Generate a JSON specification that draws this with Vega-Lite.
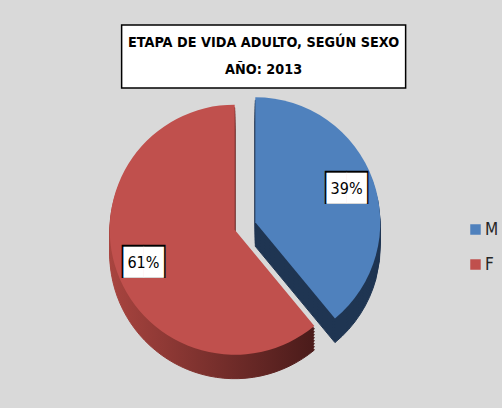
{
 "$schema": "https://vega.github.io/schema/vega-lite/v6.json",
 "background": "#d9d9d9",
 "padding": {"left": 26, "top": 24, "right": 0, "bottom": 30},
 "spacing": 8,
 "center": true,
 "config": {"view": {"stroke": null}, "font": "Liberation Sans Narrow, DejaVu Sans Condensed, sans-serif"},
 "vconcat": [
  {
   "width": 284, "height": 63,
   "view": {"fill": "white", "stroke": "black", "strokeWidth": 1.5},
   "data": {"values": [{"t": "titulo"}]},
   "mark": {"type": "text", "text": ["ETAPA DE  VIDA ADULTO, SEGÚN SEXO", "AÑO: 2013"], "fontSize": 14.3, "fontWeight": "bold", "lineHeight": 26.5, "align": "center", "baseline": "middle", "dy": -13.5, "color": "black"},
   "encoding": {}
  },
  {
   "width": 476, "height": 274,
   "data": {"values": [{"sexo": "M", "pct": 0.39}, {"sexo": "F", "pct": 0.61}]},
   "transform": [{"stack": "pct", "groupby": [], "sort": [{"field": "sexo", "order": "descending"}], "as": ["p0", "p1"]}],
   "layer": [
    {
     "encoding": {
      "theta": {"field": "p0", "type": "quantitative", "scale": {"domain": [0, 1]}},
      "theta2": {"field": "p1"}
     },
     "layer": [
      {"transform": [{"filter": "datum.sexo === 'M'"}], "mark": {"type": "arc", "radius": 125, "xOffset": -8.7, "yOffset": 10.3, "fill": "#1f3552", "stroke": "#1f3552", "strokeWidth": 1}},
      {"transform": [{"filter": "datum.sexo === 'M'"}], "mark": {"type": "arc", "radius": 125, "xOffset": -8.7, "yOffset": 7.3, "fill": "#1f3552", "stroke": "#1f3552", "strokeWidth": 1}},
      {"transform": [{"filter": "datum.sexo === 'M'"}], "mark": {"type": "arc", "radius": 125, "xOffset": -8.7, "yOffset": 4.3, "fill": "#1f3552", "stroke": "#1f3552", "strokeWidth": 1}},
      {"transform": [{"filter": "datum.sexo === 'M'"}], "mark": {"type": "arc", "radius": 125, "xOffset": -8.7, "yOffset": 1.3, "fill": "#1f3552", "stroke": "#1f3552", "strokeWidth": 1}},
      {"transform": [{"filter": "datum.sexo === 'M'"}], "mark": {"type": "arc", "radius": 125, "xOffset": -8.7, "yOffset": -1.7, "fill": "#1f3552", "stroke": "#1f3552", "strokeWidth": 1}},
      {"transform": [{"filter": "datum.sexo === 'M'"}], "mark": {"type": "arc", "radius": 125, "xOffset": -8.7, "yOffset": -4.7, "fill": "#1f3552", "stroke": "#1f3552", "strokeWidth": 1}},
      {"transform": [{"filter": "datum.sexo === 'M'"}], "mark": {"type": "arc", "radius": 125, "xOffset": -8.7, "yOffset": -7.7, "fill": "#1f3552", "stroke": "#1f3552", "strokeWidth": 1}},
      {"transform": [{"filter": "datum.sexo === 'M'"}], "mark": {"type": "arc", "radius": 125, "xOffset": -8.7, "yOffset": -10.7, "fill": "#1f3552", "stroke": "#1f3552", "strokeWidth": 1}},
      {"transform": [{"filter": "datum.sexo === 'F'"}], "mark": {"type": "arc", "radius": 125, "xOffset": -29.3, "yOffset": 17.7, "fill": {"gradient": "linear", "x1": 0, "y1": 0, "x2": 1, "y2": 0, "stops": [{"offset": 0, "color": "#a8443f"}, {"offset": 1, "color": "#4a1b1a"}]}, "stroke": {"gradient": "linear", "x1": 0, "y1": 0, "x2": 1, "y2": 0, "stops": [{"offset": 0, "color": "#a8443f"}, {"offset": 1, "color": "#4a1b1a"}]}, "strokeWidth": 1}},
      {"transform": [{"filter": "datum.sexo === 'F'"}], "mark": {"type": "arc", "radius": 125, "xOffset": -29.3, "yOffset": 14.7, "fill": {"gradient": "linear", "x1": 0, "y1": 0, "x2": 1, "y2": 0, "stops": [{"offset": 0, "color": "#a8443f"}, {"offset": 1, "color": "#4a1b1a"}]}, "stroke": {"gradient": "linear", "x1": 0, "y1": 0, "x2": 1, "y2": 0, "stops": [{"offset": 0, "color": "#a8443f"}, {"offset": 1, "color": "#4a1b1a"}]}, "strokeWidth": 1}},
      {"transform": [{"filter": "datum.sexo === 'F'"}], "mark": {"type": "arc", "radius": 125, "xOffset": -29.3, "yOffset": 11.7, "fill": {"gradient": "linear", "x1": 0, "y1": 0, "x2": 1, "y2": 0, "stops": [{"offset": 0, "color": "#a8443f"}, {"offset": 1, "color": "#4a1b1a"}]}, "stroke": {"gradient": "linear", "x1": 0, "y1": 0, "x2": 1, "y2": 0, "stops": [{"offset": 0, "color": "#a8443f"}, {"offset": 1, "color": "#4a1b1a"}]}, "strokeWidth": 1}},
      {"transform": [{"filter": "datum.sexo === 'F'"}], "mark": {"type": "arc", "radius": 125, "xOffset": -29.3, "yOffset": 8.7, "fill": {"gradient": "linear", "x1": 0, "y1": 0, "x2": 1, "y2": 0, "stops": [{"offset": 0, "color": "#a8443f"}, {"offset": 1, "color": "#4a1b1a"}]}, "stroke": {"gradient": "linear", "x1": 0, "y1": 0, "x2": 1, "y2": 0, "stops": [{"offset": 0, "color": "#a8443f"}, {"offset": 1, "color": "#4a1b1a"}]}, "strokeWidth": 1}},
      {"transform": [{"filter": "datum.sexo === 'F'"}], "mark": {"type": "arc", "radius": 125, "xOffset": -29.3, "yOffset": 5.7, "fill": {"gradient": "linear", "x1": 0, "y1": 0, "x2": 1, "y2": 0, "stops": [{"offset": 0, "color": "#a8443f"}, {"offset": 1, "color": "#4a1b1a"}]}, "stroke": {"gradient": "linear", "x1": 0, "y1": 0, "x2": 1, "y2": 0, "stops": [{"offset": 0, "color": "#a8443f"}, {"offset": 1, "color": "#4a1b1a"}]}, "strokeWidth": 1}},
      {"transform": [{"filter": "datum.sexo === 'F'"}], "mark": {"type": "arc", "radius": 125, "xOffset": -29.3, "yOffset": 2.7, "fill": {"gradient": "linear", "x1": 0, "y1": 0, "x2": 1, "y2": 0, "stops": [{"offset": 0, "color": "#a8443f"}, {"offset": 1, "color": "#4a1b1a"}]}, "stroke": {"gradient": "linear", "x1": 0, "y1": 0, "x2": 1, "y2": 0, "stops": [{"offset": 0, "color": "#a8443f"}, {"offset": 1, "color": "#4a1b1a"}]}, "strokeWidth": 1}},
      {"transform": [{"filter": "datum.sexo === 'F'"}], "mark": {"type": "arc", "radius": 125, "xOffset": -29.3, "yOffset": -0.3, "fill": {"gradient": "linear", "x1": 0, "y1": 0, "x2": 1, "y2": 0, "stops": [{"offset": 0, "color": "#a8443f"}, {"offset": 1, "color": "#4a1b1a"}]}, "stroke": {"gradient": "linear", "x1": 0, "y1": 0, "x2": 1, "y2": 0, "stops": [{"offset": 0, "color": "#a8443f"}, {"offset": 1, "color": "#4a1b1a"}]}, "strokeWidth": 1}},
      {"transform": [{"filter": "datum.sexo === 'F'"}], "mark": {"type": "arc", "radius": 125, "xOffset": -29.3, "yOffset": -3.3, "fill": {"gradient": "linear", "x1": 0, "y1": 0, "x2": 1, "y2": 0, "stops": [{"offset": 0, "color": "#a8443f"}, {"offset": 1, "color": "#4a1b1a"}]}, "stroke": {"gradient": "linear", "x1": 0, "y1": 0, "x2": 1, "y2": 0, "stops": [{"offset": 0, "color": "#a8443f"}, {"offset": 1, "color": "#4a1b1a"}]}, "strokeWidth": 1}},
      {"transform": [{"filter": "datum.sexo === 'M'"}], "mark": {"type": "arc", "radius": 125, "xOffset": -8.7, "yOffset": -13.7},
       "encoding": {"color": {"field": "sexo", "type": "nominal", "scale": {"domain": ["M", "F"], "range": ["#4f81bd", "#c0504d"]},
        "legend": {"orient": "none", "legendX": 441, "legendY": 196, "title": null, "symbolType": "square", "symbolSize": 110, "symbolStrokeWidth": 0, "labelFontSize": 17, "labelColor": "#262626", "rowPadding": 17, "labelOffset": 1, "padding": 0}}}},
      {"transform": [{"filter": "datum.sexo === 'F'"}], "mark": {"type": "arc", "radius": 125, "xOffset": -29.3, "yOffset": -6.3},
       "encoding": {"color": {"field": "sexo", "type": "nominal", "scale": {"domain": ["M", "F"], "range": ["#4f81bd", "#c0504d"]},
        "legend": {"orient": "none", "legendX": 441, "legendY": 196, "title": null, "symbolType": "square", "symbolSize": 110, "symbolStrokeWidth": 0, "labelFontSize": 17, "labelColor": "#262626", "rowPadding": 17, "labelOffset": 1, "padding": 0}}}}
     ]
    },
    {
     "encoding": {
      "theta": {"field": "pct", "type": "quantitative", "stack": true, "scale": {"domain": [0, 1]}},
      "order": {"field": "sexo", "type": "ordinal", "sort": "descending"},
      "radius": {"value": 108}
     },
     "layer": [
      {"mark": {"type": "text", "text": "██", "font": "DejaVu Sans", "fontSize": 28, "color": "black", "align": "center", "baseline": "middle", "xOffset": -19, "yOffset": -10}},
      {"mark": {"type": "text", "text": "██", "font": "DejaVu Sans", "fontSize": 26, "color": "white", "align": "center", "baseline": "middle", "xOffset": -19, "yOffset": -10}},
      {"mark": {"type": "text", "fontSize": 16, "color": "black", "align": "center", "baseline": "middle", "xOffset": -19, "yOffset": -10},
       "encoding": {"text": {"field": "pct", "type": "quantitative", "format": ".0%"}}}
     ]
    }
   ]
  }
 ]
}
